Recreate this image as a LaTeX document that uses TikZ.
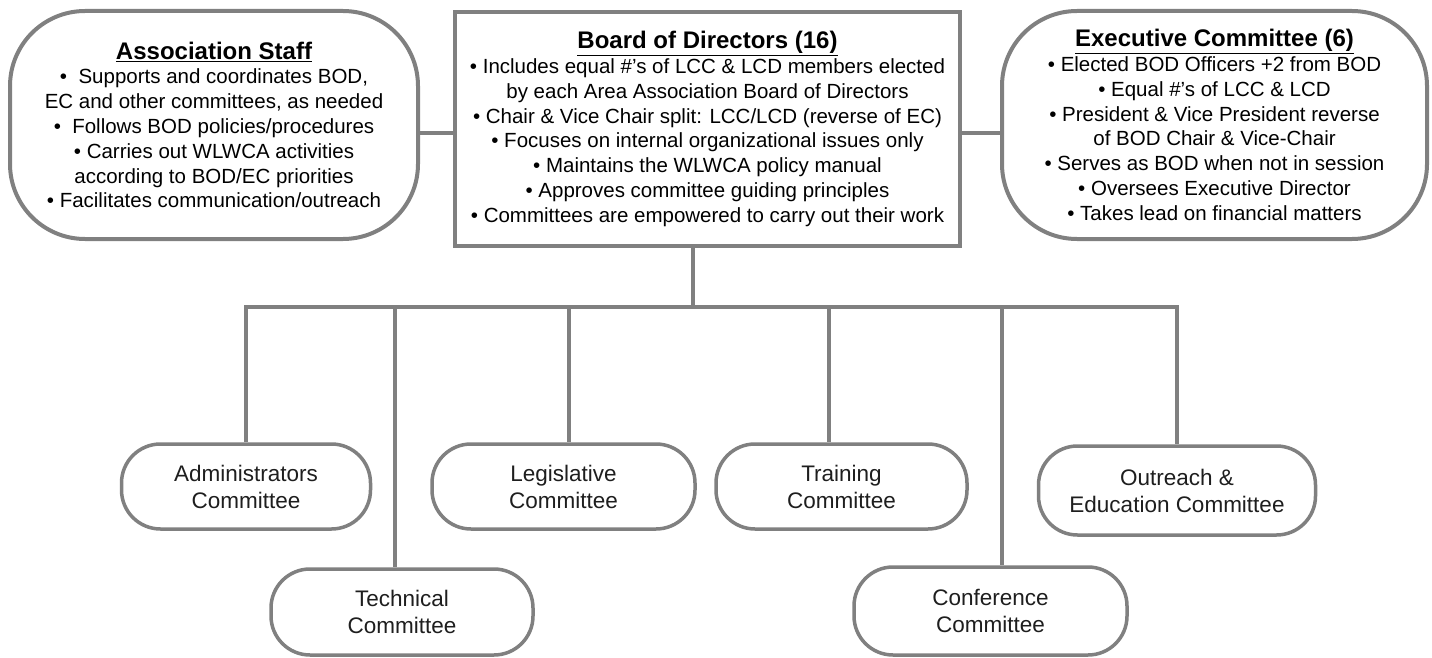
\documentclass[tikz,border=0pt]{standalone}
\usepackage{fontspec}
\setmainfont{Liberation Sans}
\definecolor{linegray}{RGB}{128,128,128}
\definecolor{cmtetext}{RGB}{30,30,30}
\newcommand{\bodysize}{\fontsize{20.5}{24.8}\selectfont}
\newcommand{\headsize}{\fontsize{24}{26}\selectfont\bfseries}
\newcommand{\cmtesize}{\fontsize{22.5}{27}\selectfont}

\begin{document}
\begin{tikzpicture}[x=1pt,y=-1pt,
    topbox/.style={draw=linegray,line width=4pt,fill=white,align=center,inner sep=0pt,font=\bodysize},
    roundbox/.style={topbox,rounded corners=75pt},
    cmte/.style={draw=linegray,line width=3.5pt,fill=white,rounded corners=39pt,align=center,inner sep=0pt,font=\cmtesize,text=cmtetext},
    link/.style={draw=linegray,line width=4pt}]
    \useasboundingbox (0,0) rectangle (1432,658);

    \node[roundbox,minimum width=408pt,minimum height=228pt] (Staff) at (214,125) {{\headsize\underline{Association Staff}}\\
        •\ \ Supports and coordinates BOD,\\
        EC and other committees, as needed\\
        •\ \ Follows BOD policies/procedures\\
        • Carries out WLWCA activities\\
        according to BOD/EC priorities\\
        • Facilitates communication/outreach};
    \node[topbox,minimum width=505pt,minimum height=234pt] (BOD) at (707.5,129) {{\headsize\underline{Board of Directors (16)}}\\
        • Includes equal \#’s of LCC \& LCD members elected\\
        by each Area Association Board of Directors\\
        • Chair \& Vice Chair split: LCC/LCD (reverse of EC)\\
        • Focuses on internal organizational issues only\\
        • Maintains the WLWCA policy manual\\
        • Approves committee guiding principles\\
        • Committees are empowered to carry out their work};
    \node[roundbox,minimum width=425pt,minimum height=228pt] (EC) at (1214.5,125) {{\headsize\underline{Executive Committee (6)}}\\
        • Elected BOD Officers +2 from BOD\\
        • Equal \#’s of LCC \& LCD\\
        • President \& Vice President reverse\\
        of BOD Chair \& Vice-Chair\\
        • Serves as BOD when not in session\\
        • Oversees Executive Director\\
        • Takes lead on financial matters};

    \node[cmte,minimum width=249pt,minimum height=85pt] (C_Adm) at (246,486.5) {Administrators\\Committee};
    \node[cmte,minimum width=262pt,minimum height=86pt] (C_Tec) at (402,612) {Technical\\Committee};
    \node[cmte,minimum width=263pt,minimum height=85pt] (C_Leg) at (563.5,486.5) {Legislative\\Committee};
    \node[cmte,minimum width=251pt,minimum height=85pt] (C_Trn) at (841.5,486.5) {Training\\Committee};
    \node[cmte,minimum width=273pt,minimum height=88pt] (C_Con) at (990.5,611) {Conference\\Committee};
    \node[cmte,minimum width=277pt,minimum height=89pt] (C_Out) at (1177,490.5) {Outreach \&\\Education Committee};

    \draw[link] ([yshift=-8pt]Staff.east) -- ([yshift=-8pt]Staff.east -| BOD.west);
    \draw[link] ([yshift=-8pt]EC.west) -- ([yshift=-8pt]EC.west -| BOD.east);

    \coordinate (Bus) at (693,307);
    \draw[link] (BOD.south -| Bus) -- (Bus);
    \draw[link] (C_Adm.north) |- (C_Out.north |- Bus) -- (C_Out.north);
    \foreach \c/\x in {Tec/395, Leg/569, Trn/829, Con/1002} {
        \coordinate (D_\c) at (\x,307);
        \draw[link] (D_\c) -- (D_\c |- C_\c.north);
    }
\end{tikzpicture}
\end{document}
